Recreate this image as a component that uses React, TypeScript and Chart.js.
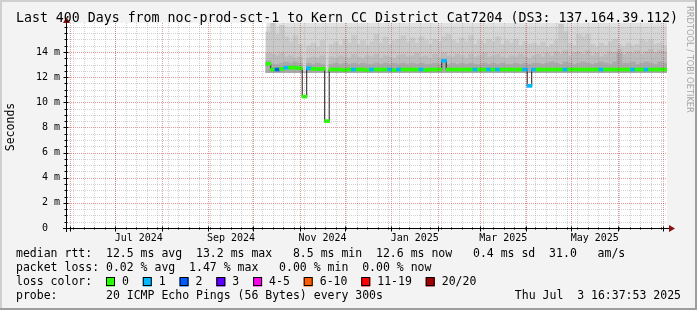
import React, { useEffect, useRef } from 'react';
import { Chart, registerables } from 'chart.js';

Chart.register(...registerables);

const DAY = 86400000;
const GRAPH_END = Date.UTC(2025, 6, 3, 16, 37, 53);
const GRAPH_DAYS = 400;
const GRAPH_START = GRAPH_END - GRAPH_DAYS * DAY;
const FIRST_SAMPLE = Date.UTC(2024, 9, 11, 0, 0, 0);
const STEP_DAYS = 3;
const Y_MAX = 16.3;
const Y_MINOR = 0.5;
const SMOKE_FLOOR = 12.35;

const titleText = 'Last 400 Days from noc-prod-sct-1 to Kern CC District Cat7204 (DS3: 137.164.39.112)';
const yAxisTitle = 'Seconds';
const watermark = 'RRDTOOL / TOBI OETIKER';

const yTickValues = [0, 2, 4, 6, 8, 10, 12, 14];
const xLabelTexts = ['Jul 2024', 'Sep 2024', 'Nov 2024', 'Jan 2025', 'Mar 2025', 'May 2025'];
const xLabelMonths: [number, number][] = [[2024, 6], [2024, 8], [2024, 10], [2025, 0], [2025, 2], [2025, 4]];

// median RTT (ms), one value every 3 days starting 2024-10-11
const medianRtt = [
  13.05, 12.6, 12.6, 12.65, 12.75, 12.75, 12.75, 12.7, 10.45, 12.7,
  12.65, 12.65, 12.65, 8.5, 12.6, 12.6, 12.6, 12.55, 12.6, 12.6,
  12.6, 12.6, 12.55, 12.6, 12.6, 12.6, 12.6, 12.6, 12.55, 12.6,
  12.6, 12.6, 12.6, 12.6, 12.6, 12.55, 12.6, 12.6, 12.6, 13.3,
  12.6, 12.6, 12.6, 12.6, 12.6, 12.6, 12.6, 12.6, 12.6, 12.6,
  12.6, 12.6, 12.6, 12.6, 12.6, 12.6, 12.6, 12.6, 11.3, 12.6,
  12.6, 12.6, 12.6, 12.6, 12.6, 12.6, 12.6, 12.6, 12.6, 12.6,
  12.6, 12.6, 12.6, 12.6, 12.6, 12.6, 12.6, 12.6, 12.6, 12.6,
  12.6, 12.6, 12.6, 12.6, 12.6, 12.6, 12.6, 12.6, 12.6,
];

// lost pings out of 20 per sample
const lossCount = [
  0, 0, 2, 0, 1, 0, 0, 0, 0, 1,
  0, 0, 0, 0, 0, 0, 0, 0, 0, 1,
  0, 0, 0, 1, 0, 0, 0, 1, 0, 1,
  0, 0, 0, 0, 1, 0, 0, 0, 0, 1,
  0, 0, 0, 0, 0, 0, 1, 0, 0, 1,
  0, 1, 0, 0, 0, 0, 0, 1, 1, 1,
  0, 0, 0, 0, 0, 0, 1, 0, 0, 0,
  0, 0, 0, 0, 1, 0, 0, 0, 0, 0,
  0, 1, 0, 0, 1, 0, 0, 0, 0,
];

// smoke layers (ms): outer layers are flat ceilings, inner layers vary per sample
const smokeCeilings = [16.6, 16.0];
const smokeOuterTop = [
  15.6, 16.3, 15.4, 16.1, 15.2, 14.8, 15.3, 14.6, 12.35, 14.5,
  14.7, 14.4, 14.9, 12.35, 14.6, 14.8, 14.5, 15.0, 14.7, 15.3,
  14.6, 14.9, 14.5, 14.8, 15.4, 14.7, 15.2, 14.6, 14.9, 15.0,
  15.3, 14.8, 15.1, 14.7, 15.2, 14.9, 14.6, 15.0, 14.8, 15.2,
  15.4, 14.9, 14.7, 15.1, 14.8, 15.3, 14.6, 14.9, 14.7, 15.0,
  14.8, 15.2, 14.6, 14.9, 14.7, 15.0, 14.5, 14.8, 14.6, 14.7,
  14.5, 14.8, 14.4, 14.6, 14.9, 16.2, 15.6, 14.7, 14.5, 15.4,
  15.2, 15.4, 14.6, 14.4, 14.7, 14.5, 14.8, 15.0, 14.6, 14.4,
  14.7, 14.5, 14.6, 15.0, 14.8, 15.0, 14.6, 14.7, 14.5,
];
const smokeMidTop = [
  13.9, 13.8, 13.7, 13.9, 13.6, 13.7, 13.5, 13.6, 12.35, 13.5,
  13.6, 13.5, 13.7, 12.35, 13.6, 13.5, 13.7, 13.6, 13.5, 13.8,
  13.6, 13.5, 13.7, 13.6, 13.8, 13.5, 13.7, 13.6, 13.5, 13.7,
  13.8, 13.6, 13.7, 13.9, 13.6, 13.7, 13.5, 13.8, 13.6, 13.9,
  13.7, 13.6, 13.8, 13.7, 13.5, 13.8, 13.6, 13.7, 13.9, 13.6,
  13.7, 13.8, 13.6, 13.5, 13.7, 13.6, 13.8, 13.6, 13.5, 13.7,
  13.8, 13.6, 13.9, 13.7, 14.0, 13.8, 14.1, 13.7, 13.9, 14.0,
  13.8, 14.1, 13.7, 13.9, 13.6, 13.8, 14.0, 13.9, 14.2, 13.8,
  14.0, 13.9, 14.1, 13.8, 14.0, 14.2, 13.9, 14.1, 14.0,
];
const smokeCoreTop = [
  13.3, 13.0, 13.0, 13.1, 13.2, 13.1, 13.2, 13.1, 12.35, 13.1,
  13.0, 13.1, 13.0, 12.35, 13.0, 13.1, 13.0, 13.1, 13.0, 13.1,
  13.0, 13.1, 13.0, 13.0, 13.1, 13.0, 13.1, 13.0, 13.1, 13.0,
  13.1, 13.0, 13.1, 13.0, 13.1, 13.0, 13.0, 13.1, 13.0, 13.4,
  13.0, 13.1, 13.0, 13.1, 13.0, 13.1, 13.0, 13.0, 13.1, 13.0,
  13.1, 13.0, 13.1, 13.0, 13.0, 13.1, 13.0, 13.1, 13.0, 13.1,
  13.1, 13.0, 13.1, 13.2, 13.1, 13.0, 13.2, 13.1, 13.0, 13.1,
  13.2, 13.1, 13.0, 13.1, 13.2, 13.1, 13.0, 13.2, 13.9, 13.1,
  13.1, 13.2, 13.0, 13.1, 13.2, 13.1, 13.0, 13.2, 13.1,
];

const lossLabels = ['0', '1', '2', '3', '4-5', '6-10', '11-19', '20/20'];
const lossColors = ['#26ff00', '#00b8ff', '#0059ff', '#5e00ff', '#ff00ea', '#ff5e00', '#ff0000', '#a10000'];
const lossUpper = [0, 1, 2, 3, 5, 10, 19, 20];

const medianStats: [string, number][] = [
  ['median rtt:', 0], ['12.5 ms avg', 13], ['13.2 ms max', 26], ['8.5 ms min', 40],
  ['12.6 ms now', 52], ['0.4 ms sd', 66], ['31.0', 77], ['am/s', 84],
];
const lossStats: [string, number][] = [
  ['packet loss:', 0], ['0.02 % avg', 13], ['1.47 % max', 25], ['0.00 % min', 38], ['0.00 % now', 50],
];
const probeText = '20 ICMP Echo Pings (56 Bytes) every 300s';
const stampText = 'Thu Jul  3 16:37:53 2025';

const MONO = "'DejaVu Sans Mono', monospace";
const MINOR_COLOR = 'rgba(140,140,140,0.4)';
const MAJOR_COLOR = 'rgba(200,30,30,0.45)';

const rrdPlugin = {
  id: 'rrdLook',
  beforeDraw(chart: any) {
    const { ctx, width, height, chartArea: a } = chart;
    ctx.save();
    ctx.fillStyle = '#f3f3f3';
    ctx.fillRect(0, 0, width, height);
    ctx.fillStyle = '#cfcfcf';
    ctx.fillRect(0, 0, width, 2);
    ctx.fillRect(0, 0, 2, height);
    ctx.fillStyle = '#9e9e9e';
    ctx.fillRect(0, height - 2, width, 2);
    ctx.fillRect(width - 2, 0, 2, height);
    ctx.fillStyle = '#ffffff';
    ctx.fillRect(a.left, a.top, a.right - a.left, a.bottom - a.top);
    ctx.restore();
  },
  afterDatasetsDraw(chart: any) {
    const { ctx, chartArea: a, scales } = chart;
    const x = scales.x;
    const y = scales.y;
    const weeks: number[] = [];
    for (let t = Date.UTC(2024, 4, 27); t <= GRAPH_END; t += 7 * DAY) if (t > GRAPH_START) weeks.push(t);
    const months: number[] = [];
    for (let k = 0; k < 15; k++) {
      const t = Date.UTC(2024, 5 + k, 1);
      if (t > GRAPH_START && t < GRAPH_END) months.push(t);
    }
    const strokeSet = (segs: number[][], color: string) => {
      ctx.strokeStyle = color;
      ctx.beginPath();
      segs.forEach(([x0, y0, x1, y1]) => { ctx.moveTo(x0, y0); ctx.lineTo(x1, y1); });
      ctx.stroke();
    };
    const hseg = (v: number) => {
      const py = Math.round(y.getPixelForValue(v)) + 0.5;
      return [a.left, py, a.right, py];
    };
    const vseg = (t: number) => {
      const px = Math.round(x.getPixelForValue(t)) + 0.5;
      return [px, a.top, px, a.bottom];
    };
    const minorH: number[][] = [];
    for (let k = 1; k * Y_MINOR <= Y_MAX; k++) {
      const v = k * Y_MINOR;
      if (!yTickValues.includes(v)) minorH.push(hseg(v));
    }
    ctx.save();
    ctx.lineWidth = 1;
    ctx.beginPath();
    ctx.rect(a.left, a.top, a.right - a.left, a.bottom - a.top);
    ctx.clip();
    ctx.setLineDash([1, 1]);
    strokeSet([...minorH, ...weeks.map(vseg)], MINOR_COLOR);
    strokeSet([...yTickValues.filter((v) => v > 0).map(hseg), ...months.map(vseg)], MAJOR_COLOR);
    ctx.restore();

    // axes
    ctx.save();
    ctx.setLineDash([]);
    ctx.lineWidth = 1;
    ctx.strokeStyle = '#000';
    const by = Math.round(a.bottom) + 0.5;
    const lx = Math.round(a.left) - 0.5;
    ctx.beginPath();
    ctx.moveTo(a.left - 4, by);
    ctx.lineTo(a.right + 2, by);
    ctx.moveTo(lx, a.bottom + 4);
    ctx.lineTo(lx, a.top - 1);
    months.forEach((t) => {
      const px = Math.round(x.getPixelForValue(t)) + 0.5;
      ctx.moveTo(px, by - 2); ctx.lineTo(px, by + 3);
    });
    weeks.forEach((t) => {
      const px = Math.round(x.getPixelForValue(t)) + 0.5;
      ctx.moveTo(px, by - 1); ctx.lineTo(px, by + 1);
    });
    for (let k = 1; k * Y_MINOR <= Y_MAX; k++) {
      const v = k * Y_MINOR;
      const py = Math.round(y.getPixelForValue(v)) + 0.5;
      const major = yTickValues.includes(v);
      ctx.moveTo(lx - (major ? 3 : 2), py); ctx.lineTo(lx + (major ? 2 : 1), py);
    }
    ctx.stroke();
    ctx.fillStyle = '#8c1010';
    ctx.beginPath();
    ctx.moveTo(a.right + 2, by - 3.5);
    ctx.lineTo(a.right + 8, by);
    ctx.lineTo(a.right + 2, by + 3.5);
    ctx.closePath();
    ctx.fill();
    ctx.beginPath();
    ctx.moveTo(lx - 3.5, a.top);
    ctx.lineTo(lx, a.top - 6);
    ctx.lineTo(lx + 3.5, a.top);
    ctx.closePath();
    ctx.fill();
    ctx.restore();
  },
  afterDraw(chart: any) {
    const { ctx, width } = chart;
    ctx.save();
    ctx.fillStyle = '#000';
    ctx.textBaseline = 'middle';
    ctx.textAlign = 'center';
    ctx.font = `13.25px ${MONO}`;
    ctx.fillText(titleText, 347, 19);

    ctx.font = `11.5px ${MONO}`;
    ctx.save();
    ctx.translate(11, 127);
    ctx.rotate(-Math.PI / 2);
    ctx.fillText(yAxisTitle, 0, 0);
    ctx.restore();

    ctx.save();
    ctx.translate(689, 6);
    ctx.rotate(Math.PI / 2);
    ctx.textAlign = 'left';
    ctx.font = "8.3px 'DejaVu Sans', sans-serif";
    ctx.fillStyle = '#a4a4a4';
    ctx.fillText(watermark, 0, 0);
    ctx.restore();

    ctx.textAlign = 'left';
    ctx.font = `11.5px ${MONO}`;
    const cw = ctx.measureText('0').width;
    const col = (c: number) => 16 + c * cw;
    medianStats.forEach(([s, c]) => ctx.fillText(s, col(c), 254.5));
    lossStats.forEach(([s, c]) => ctx.fillText(s, col(c), 268.5));
    ctx.fillText('loss color:', col(0), 282);
    let bx = col(13);
    lossLabels.forEach((lab, i) => {
      ctx.fillStyle = lossColors[i];
      ctx.fillRect(bx, 277.5, 9, 9);
      ctx.strokeStyle = '#000';
      ctx.lineWidth = 1;
      ctx.strokeRect(bx + 0.5, 277.5, 8, 8);
      ctx.fillStyle = '#000';
      ctx.fillText(lab, bx + 16, 282);
      bx = bx + 16 + ctx.measureText(lab).width + 2 * cw;
    });
    ctx.fillText('probe:', col(0), 296);
    ctx.fillText(probeText, col(13), 296);
    ctx.textAlign = 'right';
    ctx.fillText(stampText, width - 16, 296);
    ctx.restore();
  },
};

export default function App() {
  const ref = useRef<HTMLCanvasElement>(null);
  useEffect(() => {
    const canvas = ref.current;
    if (!canvas) return;
    const t = (i: number) => FIRST_SAMPLE + i * STEP_DAYS * DAY;
    const dataStart = FIRST_SAMPLE - (STEP_DAYS * DAY) / 2;
    const band = (tops: number[]) => tops.map((v, i) => ({ x: t(i), y: [SMOKE_FLOOR, v] }));
    const bucketOf = (n: number) => lossUpper.findIndex((u) => n <= u);
    const xLabelPositions = xLabelMonths.map(([yr, mo]) => (Date.UTC(yr, mo, 1) + Date.UTC(yr, mo + 1, 1)) / 2);
    const barCommon = { barThickness: 5, grouped: false, borderWidth: 0 };
    const flat = (v: number) => [{ x: dataStart, y: v }, { x: GRAPH_END, y: v }];

    const chart = new Chart(canvas, {
      type: 'bar',
      data: {
        datasets: [
          {
            type: 'bar', label: 'median', order: 0, ...barCommon,
            data: medianRtt.map((m, i) => ({ x: t(i), y: [m - 0.12, m + 0.12] })),
            backgroundColor: (c: any) => lossColors[bucketOf(lossCount[c.dataIndex] ?? 0)],
          },
          {
            type: 'line', label: 'median line', order: 1,
            data: medianRtt.map((m, i) => ({ x: t(i), y: m })),
            borderColor: '#1a1a1a', borderWidth: 1, stepped: 'middle', pointRadius: 0, fill: false,
          },
          { type: 'bar', label: 'smoke core', order: 2, ...barCommon, data: band(smokeCoreTop), backgroundColor: '#aaaaaa' },
          { type: 'bar', label: 'smoke mid', order: 3, ...barCommon, data: band(smokeMidTop), backgroundColor: '#bcbcbc' },
          { type: 'bar', label: 'smoke outer', order: 4, ...barCommon, data: band(smokeOuterTop), backgroundColor: '#c9c9c9' },
          {
            type: 'line', label: 'smoke high', order: 5, data: flat(smokeCeilings[1]),
            fill: { value: SMOKE_FLOOR }, backgroundColor: '#d6d6d6', borderColor: 'rgba(0,0,0,0)', borderWidth: 0, pointRadius: 0,
          },
          {
            type: 'line', label: 'smoke max', order: 6, data: flat(smokeCeilings[0]),
            fill: { value: SMOKE_FLOOR }, backgroundColor: '#e2e2e2', borderColor: 'rgba(0,0,0,0)', borderWidth: 0, pointRadius: 0,
          },
        ] as any,
      },
      options: {
        responsive: false,
        animation: false,
        events: [],
        layout: { padding: { top: 23, right: 30, bottom: 0, left: 0 } },
        plugins: { legend: { display: false }, tooltip: { enabled: false }, title: { display: false } },
        scales: {
          x: {
            type: 'linear', min: GRAPH_START, max: GRAPH_END, offset: false,
            grid: { display: false, drawTicks: false }, border: { display: false },
            ticks: {
              autoSkip: false, maxRotation: 0, minRotation: 0, padding: 4, color: '#000',
              font: { family: MONO, size: 10 },
              callback: (_v: any, i: number) => xLabelTexts[i] ?? '',
            },
            afterBuildTicks: (s: any) => { s.ticks = xLabelPositions.map((v) => ({ value: v })); },
            afterFit: (s: any) => { s.height = 82; },
          },
          y: {
            min: 0, max: Y_MAX,
            grid: { display: false, drawTicks: false }, border: { display: false },
            ticks: {
              autoSkip: false, padding: 7, color: '#000',
              font: { family: MONO, size: 10 },
              callback: (v: any) => (v === 0 ? '0  ' : `${v} m`),
            },
            afterBuildTicks: (s: any) => { s.ticks = yTickValues.map((v) => ({ value: v })); },
            afterFit: (s: any) => { s.width = 67; },
          },
        },
      } as any,
      plugins: [rrdPlugin],
    });
    return () => chart.destroy();
  }, []);

  return (
    <div style={{ position: 'absolute', left: 0, top: 0, width: 697, height: 310 }}>
      <canvas ref={ref} width={697} height={310} style={{ display: 'block' }} />
    </div>
  );
}
